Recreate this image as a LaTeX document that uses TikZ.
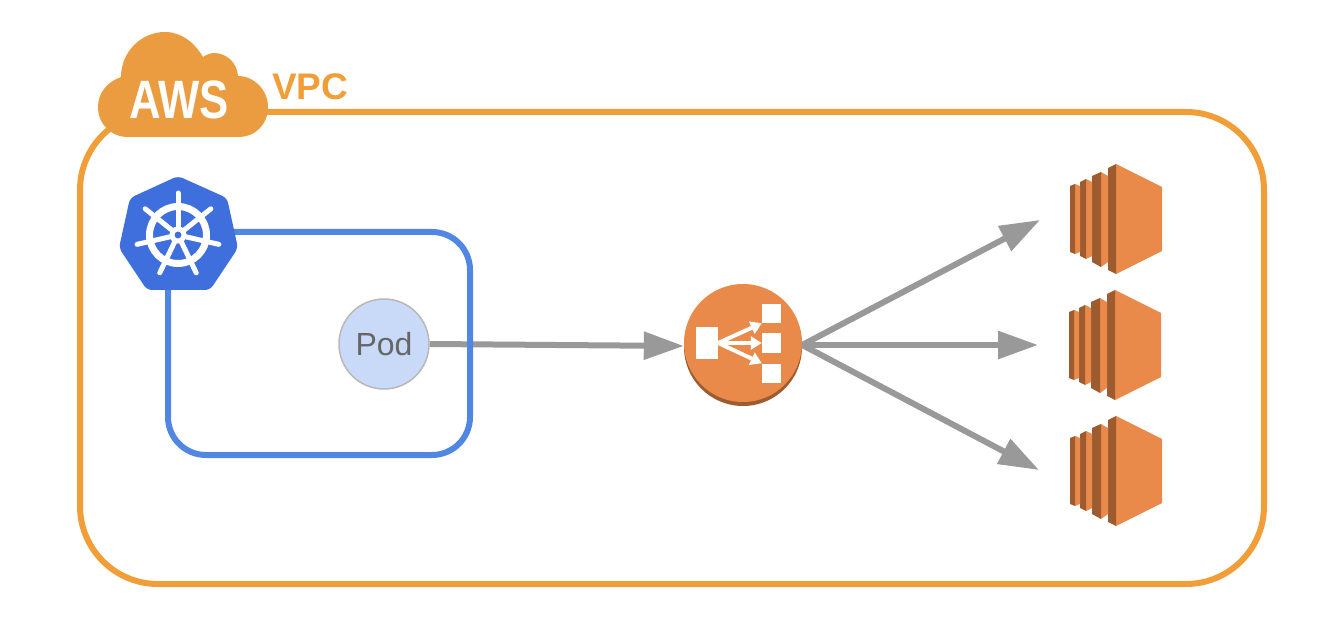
\documentclass[tikz,border=0pt]{standalone}
\usepackage{fontspec}
\setmainfont{Liberation Sans}
\usetikzlibrary{arrows.meta}

\definecolor{vpcorange}{HTML}{F19E38}
\definecolor{cloudorange}{HTML}{EC9C40}
\definecolor{k8sblue}{HTML}{3E6FDD}
\definecolor{boxblue}{HTML}{5187E3}
\definecolor{podfill}{HTML}{C9DAF8}
\definecolor{awslight}{HTML}{E98A4A}
\definecolor{awsdark}{HTML}{9D5B2F}
\definecolor{arrowgray}{HTML}{999999}

\tikzset{
    flow/.style={draw=arrowgray, line width=6pt, -{Triangle[length=40pt,width=27pt]}},
    elbflow/.style={draw=white, line width=4pt, -{Triangle[length=11pt,width=13pt]}},
    elbbox/.style={fill=white, inner sep=0pt, minimum width=19pt, minimum height=19pt},
    ecicon/.pic={
        \fill[awslight] (0,-55) -- (46,-32) -- (46,32) -- (0,55) -- cycle;
        \fill[awsdark] (-8,-51) -- (0,-55) -- (0,55) -- (-8,51) -- cycle;
        \fill[awslight] (-15,-47) -- (-8,-43) -- (-8,43) -- (-15,48) -- cycle;
        \fill[awsdark] (-24,-43) -- (-15,-47) -- (-15,48) -- (-24,43) -- cycle;
        \fill[awslight] (-30,-40) -- (-24,-37) -- (-24,37) -- (-30,40) -- cycle;
        \fill[awsdark] (-36,-37) -- (-30,-40) -- (-30,40) -- (-36,37) -- cycle;
        \fill[awslight] (-41,-35) -- (-36,-33) -- (-36,33) -- (-41,35) -- cycle;
        \fill[awsdark] (-46,-33) -- (-41,-35) -- (-41,35) -- (-46,33) -- cycle;
    }
}

\begin{document}
\begin{tikzpicture}[x=1pt, y=-1pt]
    \useasboundingbox (0,0) rectangle (1344,644);

    % VPC frame
    \draw[vpcorange, line width=6pt, rounded corners=78pt] (80,112) rectangle (1264,584);

    % AWS cloud
    \fill[cloudorange] (128,137) -- (238,137)
        .. controls (256,137) and (268,124) .. (268,107)
        .. controls (268,90) and (254,76) .. (238,76)
        .. controls (237,62) and (226,53) .. (214,53)
        .. controls (210,53) and (206,55) .. (203,57)
        .. controls (194,42) and (181,32) .. (165,32)
        .. controls (141,32) and (121,52) .. (121,77)
        .. controls (107,82) and (98,93) .. (98,107)
        .. controls (98,124) and (111,137) .. (128,137) -- cycle;
    \node[white, font=\bfseries\fontsize{54}{54}\selectfont, xscale=0.81] (aws) at (179,100) {AWS};
    \node[vpcorange, font=\bfseries\fontsize{37}{37}\selectfont, anchor=west, inner sep=0pt] (vpc) at (272,87) {VPC};

    % Pod and its arrow, the box goes over the arrow
    \node[circle, draw=black!28, fill=podfill, line width=1.5pt, minimum size=90pt, inner sep=0pt,
        text=black!60, font=\fontsize{32}{32}\selectfont] (pod) at (384,344) {Pod};
    \node[circle, fill=awsdark, minimum size=118pt, inner sep=0pt] (elbshadow) at (743,347) {};
    \node[circle, fill=awslight, minimum size=118pt, inner sep=0pt] (elb) at (743,343) {};
    \draw[flow] (pod.east) -- (elb.west |- 0,346);
    \draw[boxblue, line width=6pt, rounded corners=38pt] (168,232) rectangle (470,455);

    % Kubernetes helm
    \fill[k8sblue, rounded corners=5pt] (178,176) -- (227,198) -- (238,248) -- (210,290)
        -- (147,290) -- (119,248) -- (130,198) -- cycle;
    \node[circle, draw=white, line width=7pt, minimum size=57pt, inner sep=0pt] (rim) at (178,235) {};
    \foreach \ang in {0,...,6}
        \draw[white, line width=5pt, line cap=round] (rim.center) -- ++({-90+\ang*360/7}:42);
    \node[circle, draw=white, fill=k8sblue, line width=5pt, minimum size=12pt, inner sep=0pt] (hub) at (178,235) {};

    % Load balancer
    \node[elbbox, minimum width=22pt, minimum height=32pt] (elbin) at (707,343) {};
    \node[elbbox] (elbtop) at (771.5,313.5) {};
    \node[elbbox] (elbmid) at (771.5,343) {};
    \node[elbbox] (elbbot) at (771.5,373) {};
    \draw[elbflow] (elbin.east) -- (elbtop.south west);
    \draw[elbflow] (elbin.east) -- (elbmid.west);
    \draw[elbflow] (elbin.east) -- (elbbot.north west);

    % Instances
    \pic at (1116,219) {ecicon};
    \pic at (1115,345) {ecicon};
    \pic at (1116,471) {ecicon};
    \coordinate (topend) at (1040,220);
    \coordinate (midend) at (1038,345);
    \coordinate (botend) at (1039,470);
    \draw[flow] (elb.east |- 0,345) -- (topend);
    \draw[flow] (elb.east |- 0,345) -- (midend);
    \draw[flow] (elb.east |- 0,345) -- (botend);
\end{tikzpicture}
\end{document}
